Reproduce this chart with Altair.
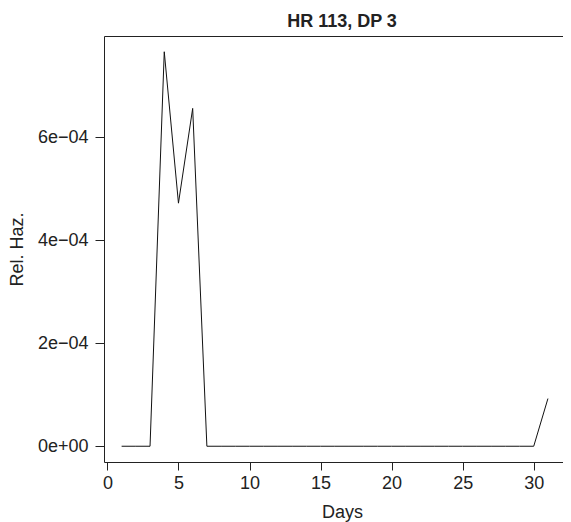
import altair as alt
import pandas as pd

days = list(range(1, 32))
rel_haz = [0, 0, 0, 7.66e-4, 4.72e-4, 6.56e-4] + [0] * 24 + [0.926e-4]
x_ticks = [0, 5, 10, 15, 20, 25, 30]
y_ticks = [0, 2e-4, 4e-4, 6e-4]

df = pd.DataFrame({"Days": days, "RelHaz": rel_haz})

FONT = "Liberation Sans"
INK = "#222222"

x_scale = alt.Scale(domain=[-0.24, 32.06], nice=False, zero=False)
y_scale = alt.Scale(domain=[-3.06e-5, 7.966e-4], nice=False, zero=False)

line = alt.Chart(df).mark_line(color="#111111", strokeWidth=1).encode(
    x=alt.X("Days:Q", scale=x_scale,
            axis=alt.Axis(values=x_ticks, title="Days", grid=False,
                          tickSize=8, labelPadding=4, labelFontSize=18,
                          titleFontSize=18, titleFontWeight="normal",
                          titlePadding=11, titleX=238,
                          domainColor=INK, tickColor=INK, labelColor=INK,
                          titleColor=INK, labelFont=FONT, titleFont=FONT,
                          labelFlush=False)),
    y=alt.Y("RelHaz:Q", scale=y_scale,
            axis=alt.Axis(values=y_ticks, title="Rel. Haz.", grid=False,
                          tickSize=9, labelPadding=7, labelFontSize=18,
                          titleFontSize=18, titleFontWeight="normal",
                          titlePadding=11,
                          labelExpr="datum.value === 0 ? '0e+00' : round(datum.value*1e4) + 'e\u221204'",
                          domainColor=INK, tickColor=INK, labelColor=INK,
                          titleColor=INK, labelFont=FONT, titleFont=FONT,
                          labelFlush=False)),
)

top = alt.Chart(df).mark_line(strokeOpacity=0).encode(
    x=alt.X("Days:Q", scale=x_scale,
            axis=alt.Axis(orient="top", labels=False, ticks=False, title=None,
                          grid=False, domainColor=INK)),
    y=alt.Y("RelHaz:Q", scale=y_scale, axis=None),
)

chart = alt.layer(line, top).resolve_axis(x="independent", y="independent").properties(
    width=459, height=426,
    autosize=alt.AutoSizeParams(type="none"),
    padding={"left": 96, "top": 28, "right": 0, "bottom": 62},
    title=alt.TitleParams("HR 113, DP 3", font=FONT, fontSize=18,
                          fontWeight="bold", color=INK, anchor="middle",
                          baseline="alphabetic", offset=-9, dx=8.5),
).configure_view(stroke=None)

chart.save("out.html", embed_options={"renderer": "svg", "actions": False})
